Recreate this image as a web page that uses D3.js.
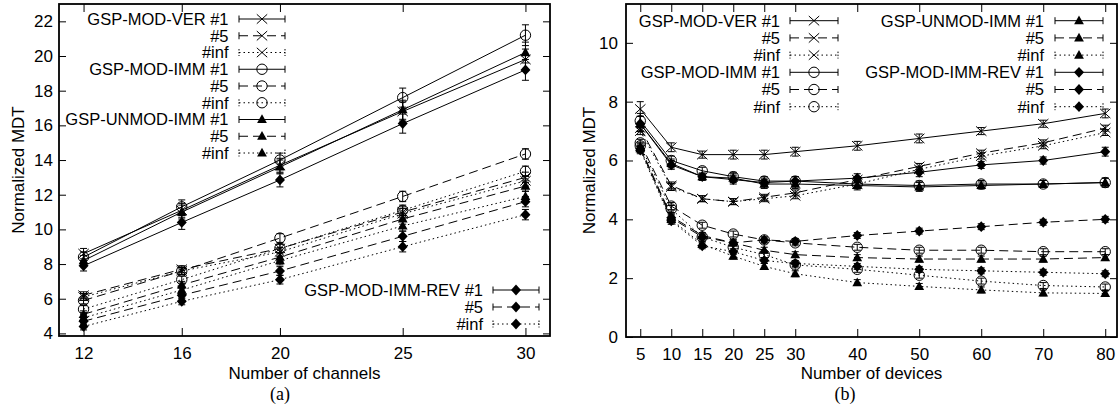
<!DOCTYPE html>
<html><head><meta charset="utf-8">
<script src="https://cdn.jsdelivr.net/npm/d3@7"></script>
<style>
body{margin:0;background:#fff}
text{font-family:"Liberation Sans",Arial,Helvetica,sans-serif;fill:#000}
</style>
</head><body>
<svg id="c" width="1119" height="417"></svg>
<script>
// ---------- data ----------
const channels = [12, 16, 20, 25, 30];
const devices = [5, 10, 15, 20, 25, 30, 40, 50, 60, 70, 80];
const channelXTicks = [12, 16, 20, 25, 30];
const channelYTicks = [4, 6, 8, 10, 12, 14, 16, 18, 20, 22];
const deviceXTicks = [5, 10, 15, 20, 25, 30, 40, 50, 60, 70, 80];
const deviceYTicks = [0, 2, 4, 6, 8, 10];
const methods = ["GSP-MOD-VER", "GSP-MOD-IMM", "GSP-UNMOD-IMM", "GSP-MOD-IMM-REV"];
const variants = ["#1", "#5", "#inf"];

// panel (a): normalized MDT vs number of channels
const chVer1     = [8.6, 11.1, 13.7, 16.8, 19.8];
const chVer5     = [6.2, 7.7, 8.9, 11.0, 13.0];
const chVerInf   = [6.1, 7.6, 8.7, 10.9, 12.8];
const chImm1     = [8.4, 11.3, 14.0, 17.6, 21.2];
const chImm5     = [5.9, 7.6, 9.5, 11.9, 14.35];
const chImmInf   = [5.4, 7.1, 8.9, 11.1, 13.35];
const chUnmod1   = [8.2, 11.0, 13.6, 16.9, 20.2];
const chUnmod5   = [5.1, 6.8, 8.4, 10.6, 12.5];
const chUnmodInf = [4.9, 6.5, 8.2, 10.2, 11.9];
const chRev1     = [7.9, 10.4, 12.85, 16.1, 19.2];
const chRev5     = [4.7, 6.2, 7.6, 9.6, 11.6];
const chRevInf   = [4.4, 5.85, 7.1, 9.0, 10.85];
const chErr1     = [0.3, 0.4, 0.4, 0.55, 0.6];
const chErrN     = [0.2, 0.2, 0.25, 0.3, 0.3];

// panel (b): normalized MDT vs number of devices
const dvVer1     = [7.75, 6.45, 6.2, 6.2, 6.2, 6.3, 6.5, 6.75, 7.0, 7.25, 7.6];
const dvVer5     = [7.1, 5.15, 4.7, 4.6, 4.75, 4.9, 5.35, 5.8, 6.25, 6.6, 7.1];
const dvVerInf   = [7.0, 5.1, 4.7, 4.6, 4.7, 4.8, 5.2, 5.7, 6.15, 6.5, 6.95];
const dvImm1     = [7.35, 6.0, 5.65, 5.45, 5.3, 5.3, 5.2, 5.15, 5.2, 5.2, 5.25];
const dvImm5     = [6.6, 4.45, 3.8, 3.5, 3.3, 3.2, 3.05, 2.95, 2.95, 2.9, 2.9];
const dvImmInf   = [6.5, 4.35, 3.4, 3.05, 2.8, 2.45, 2.3, 2.1, 1.9, 1.75, 1.7];
const dvUnmod1   = [7.25, 5.9, 5.45, 5.4, 5.2, 5.2, 5.15, 5.1, 5.15, 5.2, 5.25];
const dvUnmod5   = [6.45, 4.1, 3.45, 3.2, 2.95, 2.8, 2.7, 2.65, 2.65, 2.65, 2.7];
const dvUnmodInf = [6.4, 4.0, 3.15, 2.75, 2.4, 2.15, 1.85, 1.72, 1.6, 1.5, 1.48];
const dvRev1     = [7.25, 5.85, 5.45, 5.35, 5.25, 5.3, 5.4, 5.6, 5.85, 6.0, 6.3];
const dvRev5     = [6.4, 4.05, 3.4, 3.2, 3.3, 3.25, 3.45, 3.6, 3.75, 3.9, 4.0];
const dvRevInf   = [6.35, 3.95, 3.1, 2.9, 2.6, 2.5, 2.4, 2.3, 2.25, 2.2, 2.15];
const dvErr1     = [0.25, 0.15, 0.12, 0.15, 0.15, 0.15, 0.15, 0.15, 0.12, 0.12, 0.15];
const dvErrN     = [0.12, 0.12, 0.1, 0.1, 0.1, 0.1, 0.1, 0.1, 0.1, 0.1, 0.1];

// ---------- styles ----------
const markerOf = {"GSP-MOD-VER": "cross", "GSP-MOD-IMM": "circle", "GSP-UNMOD-IMM": "triangle", "GSP-MOD-IMM-REV": "diamond"};
const dashOf = {"#1": null, "#5": "9,5", "#inf": "1.5,3"};

function buildSeries(xs, vals, err1, errN) {
  const out = [];
  methods.forEach((m, mi) => variants.forEach((v, vi) => {
    const ys = vals[mi * 3 + vi];
    const errs = vi === 0 ? err1 : errN;
    out.push({method: m, variant: v, pts: xs.map((x, i) => ({x, y: ys[i], e: errs[i]}))});
  }));
  return out;
}
const chSeries = buildSeries(channels,
  [chVer1, chVer5, chVerInf, chImm1, chImm5, chImmInf, chUnmod1, chUnmod5, chUnmodInf, chRev1, chRev5, chRevInf],
  chErr1, chErrN);
const dvSeries = buildSeries(devices,
  [dvVer1, dvVer5, dvVerInf, dvImm1, dvImm5, dvImmInf, dvUnmod1, dvUnmod5, dvUnmodInf, dvRev1, dvRev5, dvRevInf],
  dvErr1, dvErrN);

const svg = d3.select("#c");

function drawMarker(g, type, cx, cy) {
  if (type === "circle") {
    g.append("circle").attr("cx", cx).attr("cy", cy).attr("r", 5.2)
      .attr("fill", "none").attr("stroke", "#000").attr("stroke-width", 1);
  } else if (type === "cross") {
    g.append("path").attr("d", `M${cx-5.2},${cy-4.7}L${cx+5.2},${cy+4.7}M${cx-5.2},${cy+4.7}L${cx+5.2},${cy-4.7}`)
      .attr("stroke", "#000").attr("stroke-width", 1).attr("fill", "none");
  } else if (type === "triangle") {
    g.append("path").attr("d", `M${cx},${cy-5.2}L${cx+4.9},${cy+3.6}L${cx-4.9},${cy+3.6}Z`).attr("fill", "#000");
  } else {
    g.append("path").attr("d", `M${cx},${cy-5.4}L${cx+5},${cy}L${cx},${cy+5.4}L${cx-5},${cy}Z`).attr("fill", "#000");
  }
}

function panel(cfg) {
  const g = svg.append("g");
  const x = d3.scaleLinear().domain(cfg.xDomain).range([cfg.left, cfg.right]);
  const y = d3.scaleLinear().domain(cfg.yDomain).range([cfg.bottom, cfg.top]);

  const ax = (sel) => { sel.select(".domain").remove(); sel.selectAll("line").attr("stroke", "#000").attr("stroke-width", 1); sel.selectAll("text").attr("font-size", 17).attr("fill", "#000").style("font-family", '"Liberation Sans",Arial,sans-serif'); };
  g.append("g").attr("transform", `translate(0,${cfg.bottom})`)
    .call(d3.axisBottom(x).tickValues(cfg.xTicks).tickSizeInner(-8).tickSizeOuter(0).tickPadding(11).tickFormat(d3.format("d"))).call(ax);
  g.append("g").attr("transform", `translate(0,${cfg.top})`)
    .call(d3.axisTop(x).tickValues(cfg.xTicks).tickSizeInner(-8).tickSizeOuter(0).tickFormat("")).call(ax);
  g.append("g").attr("transform", `translate(${cfg.left},0)`)
    .call(d3.axisLeft(y).tickValues(cfg.yTicks).tickSizeInner(-7).tickSizeOuter(0).tickPadding(cfg.yPad).tickFormat(d3.format("d"))).call(ax);
  g.append("g").attr("transform", `translate(${cfg.right},0)`)
    .call(d3.axisRight(y).tickValues(cfg.yTicks).tickSizeInner(-7).tickSizeOuter(0).tickFormat("")).call(ax);

  // series
  const line = d3.line().x(d => x(d.x)).y(d => y(d.y));
  cfg.series.forEach(s => {
    const sg = g.append("g");
    sg.append("path").attr("d", line(s.pts)).attr("fill", "none").attr("stroke", "#000")
      .attr("stroke-width", 1).attr("stroke-dasharray", dashOf[s.variant]);
    s.pts.forEach(p => {
      const px = x(p.x), y0 = y(p.y - p.e), y1 = y(p.y + p.e);
      sg.append("path").attr("d", `M${px},${y0}L${px},${y1}M${px-3.5},${y0}L${px+3.5},${y0}M${px-3.5},${y1}L${px+3.5},${y1}`)
        .attr("stroke", "#000").attr("stroke-width", 1).attr("fill", "none");
      drawMarker(sg, markerOf[s.method], px, y(p.y));
    });
  });

  // frame
  g.append("rect").attr("x", cfg.left).attr("y", cfg.top).attr("width", cfg.right - cfg.left)
    .attr("height", cfg.bottom - cfg.top).attr("fill", "none").attr("stroke", "#000").attr("stroke-width", 1.8);

  // legends
  cfg.legends.forEach(L => {
    L.entries.forEach((s, i) => {
      const ry = L.y0 + i * L.dy;
      const lg = g.append("g");
      lg.append("text").attr("x", L.textX).attr("y", ry).attr("dy", "0.36em").attr("text-anchor", "end")
        .attr("font-size", 16.5).text(s.variant === "#1" ? `${s.method} #1` : s.variant);
      lg.append("path").attr("d", `M${L.x1},${ry}L${L.x2},${ry}`).attr("stroke", "#000").attr("stroke-width", 1)
        .attr("stroke-dasharray", dashOf[s.variant]);
      lg.append("path").attr("d", `M${L.x1},${ry-3.5}L${L.x1},${ry+3.5}M${L.x2},${ry-3.5}L${L.x2},${ry+3.5}`)
        .attr("stroke", "#000").attr("stroke-width", 1).attr("stroke-dasharray", s.variant === "#inf" ? "1.5,1.5" : null);
      drawMarker(lg, markerOf[s.method], (L.x1 + L.x2) / 2, ry);
    });
  });

  // labels
  g.append("text").attr("x", (cfg.left + cfg.right) / 2).attr("y", 379).attr("text-anchor", "middle")
    .attr("font-size", 17).text(cfg.xLabel);
  g.append("text").attr("transform", `translate(${cfg.yLabelX},${(cfg.top + cfg.bottom) / 2}) rotate(-90)`)
    .attr("text-anchor", "middle").attr("font-size", 17).text("Normalized MDT");
  g.append("text").attr("x", cfg.capX).attr("y", 400).attr("text-anchor", "middle")
    .attr("font-size", 18).style("font-family", '"Liberation Serif","Times New Roman",serif').text(cfg.caption);
}

panel({
  left: 59, right: 550, top: 4, bottom: 336,
  xDomain: [11, 31], yDomain: [3.85, 23],
  xTicks: channelXTicks, yTicks: channelYTicks, yPad: 6,
  series: chSeries, xLabel: "Number of channels", yLabelX: 24, capX: 280, caption: "(a)",
  legends: [
    {entries: chSeries.slice(0, 9), y0: 19, dy: 16.75, textX: 228.5, x1: 239, x2: 285},
    {entries: chSeries.slice(9, 12), y0: 290, dy: 17, textX: 483, x1: 493, x2: 539}
  ]
});
panel({
  left: 626, right: 1117, top: 4, bottom: 337,
  xDomain: [2.7, 81.9], yDomain: [0, 11.32],
  xTicks: deviceXTicks, yTicks: deviceYTicks, yPad: 8,
  series: dvSeries, xLabel: "Number of devices", yLabelX: 595, capX: 845, caption: "(b)",
  legends: [
    {entries: dvSeries.slice(0, 6), y0: 20.7, dy: 17.2, textX: 780, x1: 790, x2: 838},
    {entries: dvSeries.slice(6, 12), y0: 20.7, dy: 17.2, textX: 1044, x1: 1055, x2: 1103}
  ]
});
</script>
</body></html>
